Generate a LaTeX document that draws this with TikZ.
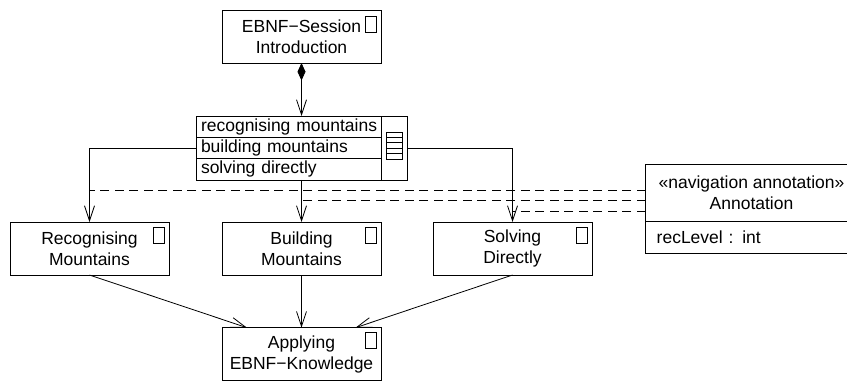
\documentclass[tikz,border=0pt]{standalone}
\usepackage{fontspec}
\setmainfont{Liberation Sans}
\usetikzlibrary{arrows.meta, positioning}

\begin{document}
\begin{tikzpicture}[
    x=1pt,
    y=1pt,
    font=\fontsize{17.5}{21}\selectfont,
    line width=0.8pt,
    every node/.style={outer sep=0pt, inner sep=0pt},
    pagebox/.style={rectangle, draw=black, minimum width=159pt, minimum height=53pt, align=center},
    tagbox/.style={rectangle, draw=black, minimum width=11pt, minimum height=16pt},
    menurow/.style={rectangle, draw=black, minimum width=185pt, minimum height=21.3pt, text width=179pt, align=left, execute at begin node=\hspace*{2pt}},
    notebox/.style={rectangle, draw=black, minimum width=211.6pt, align=center},
    arrow/.style={-{Straight Barb[length=15pt, width=10pt, line width=0.8pt]}},
    holds/.style={{Diamond[length=17.5pt, width=8pt]}-{Straight Barb[length=15pt, width=10pt, line width=0.8pt]}},
    notelink/.style={dash pattern=on 9pt off 5.5pt}
]
    \useasboundingbox (0,0) rectangle (847,-381);

    \node[pagebox] (session) at (301.5,-36.5) {EBNF−Session\\Introduction};
    \node[tagbox, below left=6pt and 5pt of session.north east, anchor=north east] (sessiontag) {};

    \node[menurow, anchor=north west] (rowrecognising) at (196,-116) {recognising mountains};
    \node[menurow, below=0pt of rowrecognising] (rowbuilding) {building mountains};
    \node[menurow, below=0pt of rowbuilding] (rowsolving) {solving directly};
    \node[rectangle, draw=black, anchor=north west, minimum width=26.7pt, minimum height=63.9pt] (menucell) at (rowrecognising.north east) {};
    \node[rectangle, draw=black, minimum width=16pt, minimum height=27pt, yshift=2.5pt] (menuicon) at (menucell.center) {};
    \foreach \row in {1,...,4}
        \draw ([yshift=-\row*5.4pt]menuicon.north west) -- ([yshift=-\row*5.4pt]menuicon.north east);

    \node[pagebox] (building) at (301.5,-248.5) {Building\\Mountains};
    \node[pagebox, left=53pt of building] (recognising) {Recognising\\Mountains};
    \node[pagebox, right=52pt of building] (solving) {Solving\\Directly};
    \node[pagebox, below=52.7pt of building] (applying) {Applying\\EBNF−Knowledge};

    \node[tagbox, below left=5pt and 5pt of recognising.north east, anchor=north east] (recognisingtag) {};
    \node[tagbox, below left=5pt and 5pt of building.north east, anchor=north east] (buildingtag) {};
    \node[tagbox, below left=5pt and 5pt of solving.north east, anchor=north east] (solvingtag) {};
    \node[tagbox, below left=5pt and 5pt of applying.north east, anchor=north east] (applyingtag) {};

    \node[notebox, anchor=north west, minimum height=57.7pt] (annotation) at (645.7,-164) {«navigation annotation»\\Annotation};
    \node[notebox, below=0pt of annotation, minimum height=31.3pt, text width=189.6pt, align=left] (annotationattr) {recLevel : int};

    \coordinate (linkrecognising) at (645.7,-190);
    \coordinate (linkbuilding) at (645.7,-200.7);
    \coordinate (linksolving) at (645.7,-211.3);
    \coordinate (intoleft) at ([xshift=-54.5pt]applying.north);
    \coordinate (intoright) at ([xshift=54pt]applying.north);

    \draw[holds] (session.south) -- (session.south |- rowrecognising.north);
    \draw[arrow] (rowbuilding.west) -| (recognising.north);
    \draw[arrow] (rowsolving.south -| building.north) -- (building.north);
    \draw[arrow] (menucell.east) -| (solving.north);

    \draw[notelink] (linkrecognising) -- (recognising.north |- linkrecognising);
    \draw[notelink] (linkbuilding) -- (building.north |- linkbuilding);
    \draw[notelink] (linksolving) -- (solving.north |- linksolving);

    \draw[arrow] (recognising.south) -- (intoleft);
    \draw[arrow] (building.south) -- (applying.north);
    \draw[arrow] (solving.south) -- (intoright);
\end{tikzpicture}
\end{document}
